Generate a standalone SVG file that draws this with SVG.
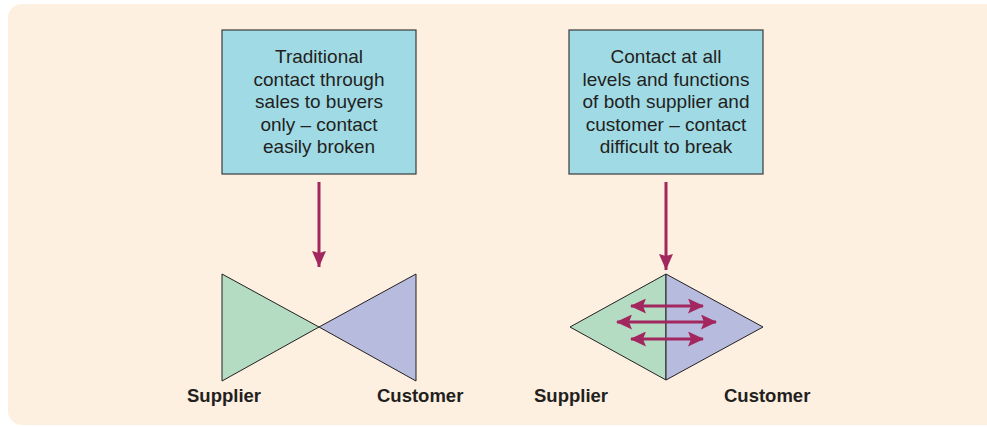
<svg xmlns="http://www.w3.org/2000/svg" width="987" height="427" viewBox="0 0 987 427">
<defs>
<style>
.box{fill:#A0DAE5;stroke:#3a3a3a;stroke-width:1.2}
.txt{font-family:"Liberation Sans",Arial,sans-serif;font-size:19px;fill:#231F20;text-anchor:middle}
.lbl{font-family:"Liberation Sans",Arial,sans-serif;font-size:18.5px;font-weight:bold;fill:#231F20}
.sup{fill:#B3DCC3;stroke:#231F20;stroke-width:1}
.cus{fill:#B7BCDF;stroke:#231F20;stroke-width:1}
.arr{stroke:#A2275E;stroke-width:3;fill:none}
</style>
<marker id="ah" markerWidth="16" markerHeight="15" viewBox="0 0 16 15" refX="15" refY="7.5" orient="auto-start-reverse" markerUnits="userSpaceOnUse">
<path d="M0,0 L16,7.5 L0,15 L3,7.5 Z" fill="#A2275E"/>
</marker>
<marker id="ah2" markerWidth="16" markerHeight="14" viewBox="0 0 16 14" refX="16" refY="7" orient="auto" markerUnits="userSpaceOnUse">
<path d="M0,0 L16,7 L0,14 L2,7 Z" fill="#A2275E"/>
</marker>
</defs>
<rect x="8" y="4" width="992" height="421" rx="14" fill="#FDF0E1"/>
<g id="box-traditional">
<rect class="box" x="222" y="30" width="194" height="144"/>
<text class="txt" x="319" y="63">Traditional</text>
<text class="txt" x="319" y="85.5">contact through</text>
<text class="txt" x="319" y="108">sales to buyers</text>
<text class="txt" x="319" y="130.5">only – contact</text>
<text class="txt" x="319" y="153">easily broken</text>
</g>
<g id="box-contact">
<rect class="box" x="569" y="30" width="194" height="144"/>
<text class="txt" x="666" y="63">Contact at all</text>
<text class="txt" x="666" y="85.5">levels and functions</text>
<text class="txt" x="666" y="108">of both supplier and</text>
<text class="txt" x="666" y="130.5">customer – contact</text>
<text class="txt" x="666" y="153">difficult to break</text>
</g>
<g id="bowtie">
<polygon class="sup" points="222,274 319,327 222,381"/>
<polygon class="cus" points="416,274 319,327 416,381"/>
<text class="lbl" x="187" y="402">Supplier</text>
<text class="lbl" x="377" y="402">Customer</text>
</g>
<g id="diamond">
<polygon class="sup" points="666,274 570,327 666,380"/>
<polygon class="cus" points="666,274 763,327 666,380"/>
<text class="lbl" x="534" y="402">Supplier</text>
<text class="lbl" x="724" y="402">Customer</text>
</g>
<g id="connectors">
<line class="arr" x1="319" y1="182" x2="319" y2="267" marker-end="url(#ah2)"/>
<line class="arr" x1="666" y1="182" x2="666" y2="270" marker-end="url(#ah2)"/>
<line class="arr" x1="631" y1="306" x2="703" y2="306" marker-start="url(#ah)" marker-end="url(#ah)"/>
<line class="arr" x1="617" y1="322" x2="716" y2="322" marker-start="url(#ah)" marker-end="url(#ah)"/>
<line class="arr" x1="631" y1="339" x2="703" y2="339" marker-start="url(#ah)" marker-end="url(#ah)"/>
</g>
</svg>
